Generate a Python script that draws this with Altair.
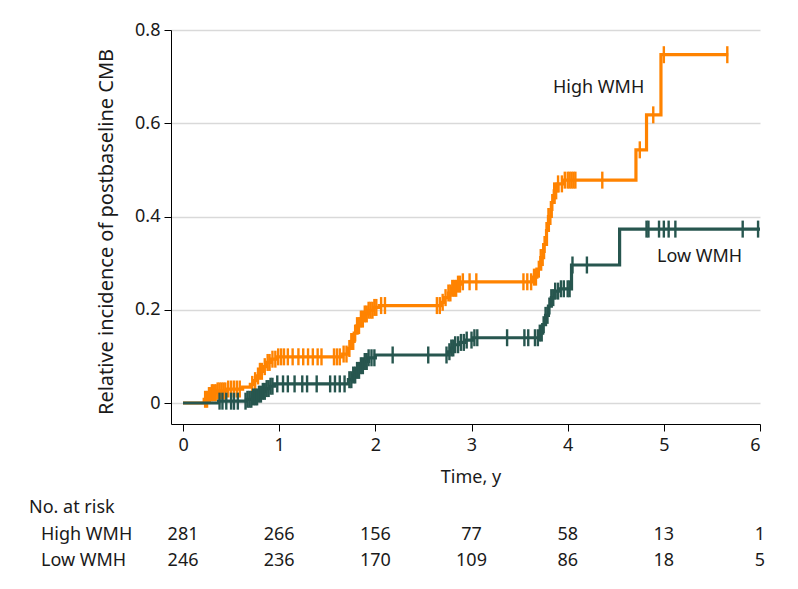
import altair as alt
import pandas as pd

# ---- data ----
high_t = [0.0, 0.22, 0.26, 0.30, 0.35, 0.45, 0.62, 0.70, 0.74, 0.77, 0.80, 0.83, 0.87, 0.92, 0.98,
          1.66, 1.72, 1.75, 1.78, 1.81, 1.84, 1.88, 1.93, 1.98, 2.04,
          2.68, 2.72, 2.76, 2.80, 2.85, 2.90,
          3.63, 3.68, 3.72, 3.75, 3.78, 3.80, 3.83, 3.86, 3.90, 3.95,
          4.71, 4.82, 4.97, 5.67]
high_v = [0.0, 0.008, 0.016, 0.022, 0.026, 0.030, 0.034, 0.040, 0.048, 0.058, 0.068, 0.078, 0.087, 0.094, 0.099,
          0.105, 0.117, 0.132, 0.150, 0.166, 0.180, 0.191, 0.199, 0.205, 0.209,
          0.216, 0.226, 0.236, 0.246, 0.255, 0.260,
          0.270, 0.287, 0.312, 0.340, 0.370, 0.400, 0.430, 0.455, 0.470, 0.478,
          0.543, 0.618, 0.747, 0.747]
high_cens = [0.23, 0.25, 0.27, 0.28, 0.30, 0.31, 0.33, 0.34, 0.36, 0.38, 0.40, 0.42, 0.44, 0.47, 0.50,
             0.53, 0.56, 0.59, 0.72, 0.75, 0.78, 0.80, 0.82, 0.85, 0.88, 0.90, 0.93, 0.96, 0.99, 1.02, 1.05,
             1.09, 1.14, 1.20, 1.25, 1.30, 1.35, 1.40, 1.44, 1.57, 1.60, 1.63, 1.67, 1.70,
             1.73, 1.75, 1.77, 1.79, 1.81, 1.83, 1.85, 1.87, 1.89, 1.91, 1.93, 1.95, 1.97, 1.99, 2.01, 2.06, 2.10,
             2.64, 2.67, 2.70, 2.73, 2.76, 2.78, 2.80, 2.82, 2.84, 2.86, 2.88, 2.91, 2.98, 3.05,
             3.54, 3.58, 3.62, 3.65, 3.67, 3.70, 3.72, 3.74, 3.76, 3.78, 3.80, 3.82, 3.84, 3.86, 3.88, 3.90,
             3.94, 3.97, 4.00, 4.02, 4.04, 4.06, 4.08, 4.36, 4.75, 4.89, 5.00, 5.66]

low_t = [0.0, 0.37, 0.66, 0.72, 0.78, 0.82, 0.86, 0.90, 0.95,
         1.72, 1.76, 1.80, 1.84, 1.88, 1.93, 2.00,
         2.75, 2.78, 2.82, 2.87, 2.93, 3.02,
         3.71, 3.74, 3.77, 3.80, 3.83, 3.87, 3.91,
         4.04, 4.54, 6.0]
low_v = [0.0, 0.004, 0.008, 0.013, 0.019, 0.025, 0.031, 0.036, 0.041,
         0.050, 0.060, 0.070, 0.080, 0.089, 0.097, 0.103,
         0.110, 0.118, 0.125, 0.130, 0.135, 0.140,
         0.150, 0.168, 0.188, 0.208, 0.226, 0.240, 0.245,
         0.296, 0.373, 0.373]
low_cens = [0.38, 0.41, 0.45, 0.50, 0.53, 0.57,
            0.65, 0.67, 0.69, 0.71, 0.73, 0.75, 0.77, 0.79, 0.81, 0.83, 0.85, 0.87, 0.89, 0.91, 0.93,
            0.98, 1.04, 1.09, 1.16, 1.24, 1.29, 1.39, 1.53, 1.58, 1.63, 1.68,
            1.73, 1.75, 1.77, 1.79, 1.81, 1.83, 1.85, 1.87, 1.89, 1.91, 1.93, 1.96, 1.99,
            2.18, 2.55, 2.74, 2.77, 2.79, 2.81, 2.83, 2.86, 2.89, 2.92, 2.95, 3.00, 3.03, 3.06,
            3.37, 3.55, 3.59, 3.66, 3.69,
            3.71, 3.73, 3.75, 3.77, 3.79, 3.81, 3.83, 3.85, 3.87,
            3.90, 3.93, 3.96, 4.00, 4.02, 4.05, 4.20,
            4.82, 4.84, 4.95, 5.00, 5.05, 5.12, 5.82, 5.98]

risk_times = [0, 1, 2, 3, 4, 5, 6]
risk_high = [281, 266, 156, 77, 58, 13, 1]
risk_low = [246, 236, 170, 109, 86, 18, 5]

HIGH_COLOR = "#FF8300"
LOW_COLOR = "#27564F"
FONT = "Noto Sans"
TXT = "#1a1a1a"


def step_value(ts, vs, t):
    val = vs[0]
    for a, b in zip(ts, vs):
        if a <= t:
            val = b
    return val


high_df = pd.DataFrame({"t": high_t, "v": high_v})
low_df = pd.DataFrame({"t": low_t, "v": low_v})
high_c = pd.DataFrame({"t": high_cens, "v": [step_value(high_t, high_v, c) for c in high_cens]})
low_c = pd.DataFrame({"t": low_cens, "v": [step_value(low_t, low_v, c) for c in low_cens]})

xs = alt.Scale(domain=[-0.125, 6], nice=False, zero=False)
ys = alt.Scale(domain=[-0.045, 0.8], nice=False, zero=False)

x_axis = alt.Axis(values=risk_times, grid=False, title=None, labelFont=FONT, labelFontSize=18,
                  labelColor=TXT, tickColor="#000", domainColor="#000", tickSize=7,
                  labelPadding=5, format="d")
y_axis = alt.Axis(values=[0, 0.2, 0.4, 0.6, 0.8], grid=True, gridColor="#d9d9d9", gridWidth=1.5,
                  title=None, labelFont=FONT, labelFontSize=18, labelColor=TXT,
                  tickColor="#000", domainColor="#000", tickSize=7, labelPadding=4,
                  labelExpr="datum.value == 0 ? '0' : format(datum.value, '.1f')")

base_axes = alt.Chart(high_df).mark_line(opacity=0).encode(
    x=alt.X("t:Q", scale=xs, axis=x_axis),
    y=alt.Y("v:Q", scale=ys, axis=y_axis),
)

high_line = alt.Chart(high_df).mark_line(interpolate="step-after", color=HIGH_COLOR, strokeWidth=3.2).encode(
    x=alt.X("t:Q", scale=xs), y=alt.Y("v:Q", scale=ys))
high_ticks = alt.Chart(high_c).mark_tick(orient="vertical", color=HIGH_COLOR, thickness=2.4, size=17, opacity=1).encode(
    x=alt.X("t:Q", scale=xs), y=alt.Y("v:Q", scale=ys))
low_line = alt.Chart(low_df).mark_line(interpolate="step-after", color=LOW_COLOR, strokeWidth=3.2).encode(
    x=alt.X("t:Q", scale=xs), y=alt.Y("v:Q", scale=ys))
low_ticks = alt.Chart(low_c).mark_tick(orient="vertical", color=LOW_COLOR, thickness=2.4, size=17, opacity=1).encode(
    x=alt.X("t:Q", scale=xs), y=alt.Y("v:Q", scale=ys))

def label(txt, x, y, align="left", angle=0, size=18):
    return alt.Chart(pd.DataFrame({"s": [txt]})).mark_text(
        font=FONT, fontSize=size, color=TXT, align=align, baseline="middle", angle=angle
    ).encode(text="s:N", x=alt.value(x), y=alt.value(y))

ann_high = label("High WMH", 553 - 171, 88 - 30)
ann_low = label("Low WMH", 657 - 171, 257 - 30)
y_title = label("Relative incidence of postbaseline CMB", 107 - 171, 232 - 30, align="center", angle=270, size=20)
x_title = label("Time, y", 471 - 171, 478 - 30, align="center")
risk_title = label("No. at risk", 29 - 171, 508 - 30)
risk_high_lab = label("High WMH", 41 - 171, 535 - 30)
risk_low_lab = label("Low WMH", 41 - 171, 561 - 30)

risk_df = pd.DataFrame({"t": risk_times, "high": risk_high, "low": risk_low})
risk_high_txt = alt.Chart(risk_df).mark_text(font=FONT, fontSize=18, color=TXT, align="center",
                                              baseline="middle").encode(
    x=alt.X("t:Q", scale=xs), y=alt.value(535 - 30), text="high:Q")
risk_low_txt = alt.Chart(risk_df).mark_text(font=FONT, fontSize=18, color=TXT, align="center",
                                             baseline="middle").encode(
    x=alt.X("t:Q", scale=xs), y=alt.value(561 - 30), text="low:Q")

chart = alt.layer(
    base_axes, high_line, high_ticks, low_line, low_ticks,
    ann_high, ann_low, y_title, x_title, risk_title, risk_high_lab, risk_low_lab,
    risk_high_txt, risk_low_txt,
).properties(
    width=589, height=394,
    autosize=alt.AutoSizeParams(type="none"),
    padding={"left": 163, "top": 22, "right": 30, "bottom": 150},
).configure_view(stroke=None)

chart.save("out.html", embed_options={"renderer": "svg", "actions": False})
